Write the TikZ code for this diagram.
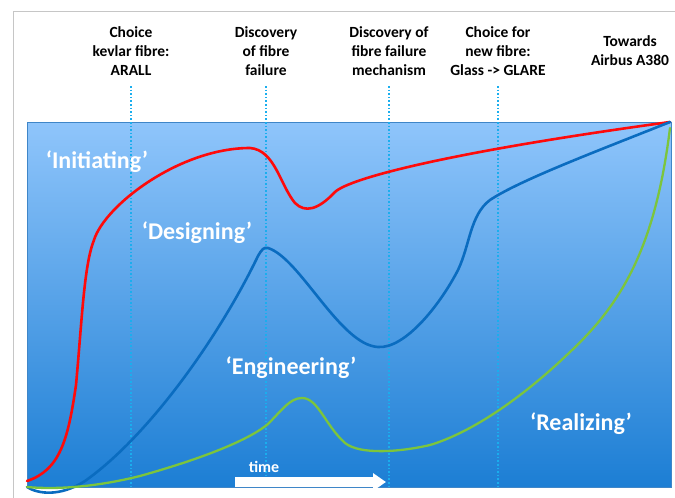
\documentclass[tikz,border=0pt]{standalone}
\usepackage{fontspec}
\setmainfont{Carlito}
\usetikzlibrary{arrows.meta}
\definecolor{skytop}{HTML}{8FC5FB}
\definecolor{skymid}{HTML}{70AEF0}
\definecolor{skybot}{HTML}{1C7ED4}
\definecolor{edgeblue}{HTML}{3F86C8}
\definecolor{marker}{HTML}{1AAEEE}
\definecolor{initred}{HTML}{FF0A0A}
\definecolor{designblue}{HTML}{0A6CC0}
\definecolor{realgreen}{HTML}{7CC53C}
\tikzset{
    eventlabel/.style={align=center, font=\fontsize{15.5}{19}\selectfont\bfseries, inner sep=0pt},
    phaselabel/.style={text=white, font=\fontsize{24}{28}\selectfont\bfseries, inner sep=0pt},
    marker line/.style={marker, line width=1.6pt, dotted},
    phase curve/.style={line width=2.6pt, line cap=round},
    timearrow/.style={white, line width=9.5pt, -{Triangle[length=13pt, width=17pt]}}
}
\begin{document}
\begin{tikzpicture}[x=1pt, y=-1pt]
  \useasboundingbox (0,0) rectangle (675,498);
  % page frame
  \draw [gray!45, line width=1pt] (13,498) -- (13,11) -- (675,11);
  % background panel
  \shade [top color=skytop, middle color=skymid, bottom color=skybot] (27,122) rectangle (671,487);
  \draw [edgeblue, line width=0.6pt] (27,122) rectangle (671,487);
  % events
  \node [eventlabel] (kevlar) at (131,51) {Choice\\kevlar fibre:\\ARALL};
  \node [eventlabel] (failure) at (266,51) {Discovery\\of fibre\\failure};
  \node [eventlabel] (mechanism) at (389,51) {Discovery of\\fibre failure\\mechanism};
  \node [eventlabel] (glare) at (498,51) {Choice for\\new fibre:\\Glass -> GLARE};
  \node [eventlabel] (airbus) at (630,51) {Towards\\Airbus A380};
  \foreach \n/\x in {kevlar/131, failure/266, mechanism/389, glare/498} {
    \coordinate (\n top) at (\x,86);
    \coordinate (\n bot) at (\x,487);
    \draw [marker line] (\n top) -- (\n bot);
  }
  % phases
  \draw [initred, phase curve] (27,481) .. controls (60,470) and (68,440) .. (76,385)
    .. controls (82,320) and (84,265) .. (94,240)
    .. controls (105,205) and (180,148) .. (250,148)
    .. controls (275,150) and (280,185) .. (295,203)
    .. controls (305,213) and (318,210) .. (335,192)
    .. controls (350,178) and (450,152) .. (670,122);
  \draw [designblue, phase curve] (27,487) .. controls (38,494) and (60,497) .. (85,481)
    .. controls (150,435) and (220,335) .. (258,256)
    .. controls (262,249) and (264,247) .. (268,248)
    .. controls (300,258) and (340,345) .. (378,347)
    .. controls (405,349) and (440,305) .. (458,270)
    .. controls (470,245) and (470,215) .. (490,200)
    .. controls (520,180) and (600,150) .. (670,122);
  \draw [realgreen, phase curve, line width=2.3pt] (27,487) .. controls (60,490) and (100,486) .. (140,476)
    .. controls (190,462) and (245,443) .. (268,424)
    .. controls (282,410) and (290,398) .. (302,398)
    .. controls (318,398) and (325,425) .. (345,443)
    .. controls (360,455) and (400,452) .. (430,445)
    .. controls (470,433) and (520,400) .. (570,352)
    .. controls (620,305) and (655,250) .. (670,128);
  \node [phaselabel] (initiating) at (97,162) {‘Initiating’};
  \node [phaselabel] (designing) at (197,233) {‘Designing’};
  \node [phaselabel] (engineering) at (291,368) {‘Engineering’};
  \node [phaselabel] (realizing) at (581,424) {‘Realizing’};
  % time axis
  \node [text=white, font=\fontsize{16}{18}\selectfont\bfseries, inner sep=0pt] (time) at (264,467) {time};
  \coordinate (tstart) at (235,482);
  \coordinate (tend) at (386,482);
  \draw [timearrow] (tstart) -- (tend);
\end{tikzpicture}
\end{document}
